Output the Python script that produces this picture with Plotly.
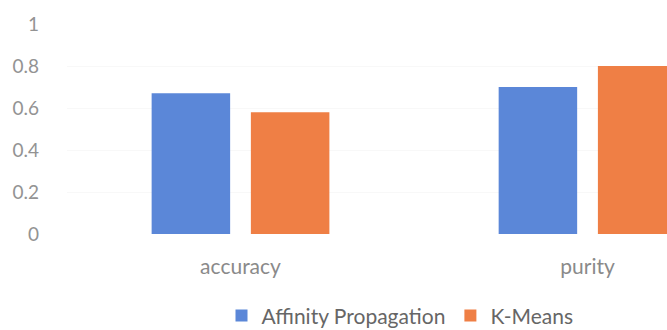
import plotly.graph_objects as go

categories = ["accuracy", "purity"]
affinity_propagation = [0.67, 0.70]
k_means = [0.58, 0.80]
y_ticks = [0, 0.2, 0.4, 0.6, 0.8, 1]
y_tick_labels = ["0", "0.2", "0.4", "0.6", "0.8", "1"]

FONT = "Lato"
fig = go.Figure()
fig.add_trace(go.Bar(x=categories, y=affinity_propagation, name="Affinity Propagation",
                     marker=dict(color="#5b87d8", line=dict(width=0))))
fig.add_trace(go.Bar(x=categories, y=k_means, name="K-Means",
                     marker=dict(color="#ef7f45", line=dict(width=0))))

fig.update_layout(
    width=667, height=330,
    margin=dict(l=67, r=0, t=24, b=96, autoexpand=False),
    paper_bgcolor="white", plot_bgcolor="white",
    barmode="group", bargap=0.428, bargroupgap=0.209,
    font=dict(family=FONT, color="#7f7f7f", size=16),
    showlegend=True,
    legend=dict(orientation="h", x=0.555, xanchor="center", y=-0.39, yanchor="middle",
                font=dict(family=FONT, size=21, color="#666666"),
                itemwidth=30, traceorder="normal", tracegroupgap=0),
)
fig.update_xaxes(type="category", range=[-0.5, 1.229], showgrid=False, showline=False,
                 zeroline=False, ticks="", ticklabelstandoff=18, automargin=False,
                 tickfont=dict(family=FONT, size=21, color="#8a8a8a"))
fig.update_yaxes(range=[0, 1], tickvals=y_ticks, ticktext=y_tick_labels,
                 showgrid=True, gridcolor="#f8f8f8", zeroline=False, showline=False,
                 ticks="", ticklabelstandoff=27, automargin=False,
                 tickfont=dict(family=FONT, size=19, color="#939393"))

fig.write_html("out.html")
